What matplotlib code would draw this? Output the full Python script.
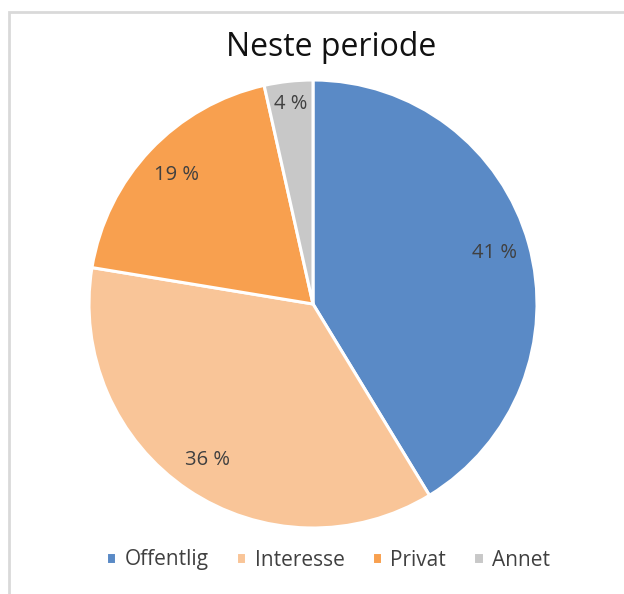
import matplotlib
matplotlib.use('Agg')
import matplotlib.pyplot as plt
from matplotlib.patches import Rectangle

categories = ['Offentlig', 'Interesse', 'Privat', 'Annet']
shares = [41.3, 36.3, 18.9, 3.5]
share_labels = ['41 %', '36 %', '19 %', '4 %']
colors = ['#5A8AC6', '#F9C598', '#F8A04F', '#C8C8C8']

plt.rcParams['font.family'] = ['Open Sans', 'DejaVu Sans']

fig = plt.figure(figsize=(6.24, 5.94), dpi=100)

# pie axes: centre ~(313, 304) px, radius ~224 px
ax = fig.add_axes([(313 - 224) / 624, (594 - 528) / 594, 448 / 624, 448 / 594])
wedges, texts, autotexts = ax.pie(
	shares, colors=colors, startangle=90, counterclock=False,
	autopct='%.0f', pctdistance=0.84,
	wedgeprops={'edgecolor': 'white', 'linewidth': 2.2})
for t, lab in zip(autotexts, share_labels):
	t.set_text(lab)
	t.set_color('#404040')
	t.set_fontsize(14.5)
autotexts[-1].set_position((autotexts[-1].get_position()[0] * 1.07, autotexts[-1].get_position()[1] * 1.07))
ax.set_xlim(-1, 1)
ax.set_ylim(-1, 1)
ax.set_aspect('equal')
ax.axis('off')

fig.text(331 / 624, 1 - 47 / 594, 'Neste periode', ha='center', va='center',
	fontsize=23, color='#111111')

fig.legend(wedges, categories, loc='center', bbox_to_anchor=(328 / 624, 1 - 560 / 594),
	ncol=4, frameon=False, fontsize=15, handlelength=0.5, handleheight=0.5,
	handletextpad=0.4, columnspacing=1.3, labelcolor='#404040')

fig.add_artist(Rectangle((9 / 624, -0.1), 1.2, 1 - 12 / 594 + 0.1, transform=fig.transFigure,
	fill=False, edgecolor='#D9D9D9', linewidth=2))

fig.savefig('out.png', dpi=100)
